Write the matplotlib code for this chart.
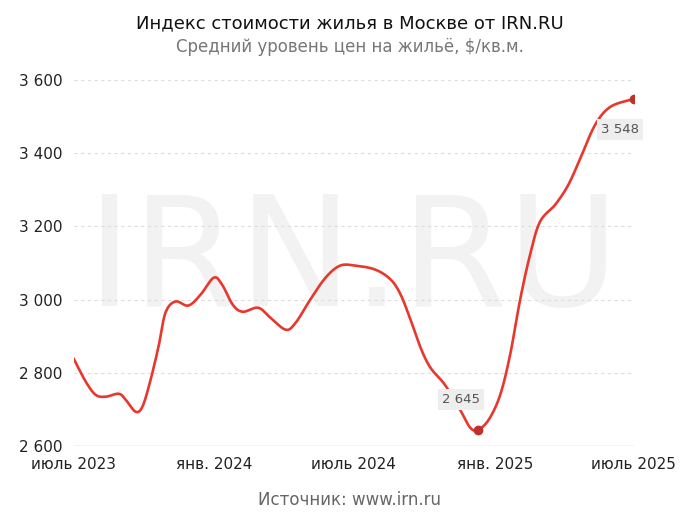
import numpy as np
import matplotlib.pyplot as plt

# days since 2023-07-01 and index values ($/sq.m)
days = [0, 16, 29, 42, 59, 68, 81, 90, 100, 111, 120, 133, 150, 166, 183, 194,
        208, 221, 241, 257, 277, 290, 309, 329, 348, 368, 394, 414, 427, 440,
        453, 466, 485, 505, 518, 528, 542, 557, 570, 583, 596, 609, 629, 646,
        662, 681, 701, 731]
values = [2840, 2776, 2740, 2735, 2743, 2727, 2694, 2708, 2776, 2872, 2964,
          2995, 2984, 3014, 3060, 3041, 2986, 2967, 2978, 2951, 2918, 2937,
          3000, 3060, 3093, 3093, 3082, 3055, 3014, 2945, 2869, 2814, 2767,
          2698, 2650, 2645, 2672, 2740, 2850, 3000, 3123, 3213, 3260, 3314,
          3388, 3478, 3527, 3548]
tick_days = [0, 184, 366, 550, 731]
tick_labels = ["июль 2023", "янв. 2024", "июль 2024", "янв. 2025", "июль 2025"]


def smooth(x, y, n=20):
    # Catmull-Rom drawing of the line through the read points
    x = np.asarray(x, float); y = np.asarray(y, float)
    px = np.r_[x[0], x, x[-1]]; py = np.r_[y[0], y, y[-1]]
    xs, ys = [], []
    t = np.linspace(0, 1, n, endpoint=False)
    for i in range(1, len(px) - 2):
        for p, out in ((px, xs), (py, ys)):
            p0, p1, p2, p3 = p[i - 1], p[i], p[i + 1], p[i + 2]
            out.append(0.5 * (2 * p1 + (-p0 + p2) * t + (2 * p0 - 5 * p1 + 4 * p2 - p3) * t**2
                              + (-p0 + 3 * p1 - 3 * p2 + p3) * t**3))
    return np.r_[np.concatenate(xs), x[-1]], np.r_[np.concatenate(ys), y[-1]]


red = "#e8372c"
fig = plt.figure(figsize=(7, 5.23), dpi=100)
ax = fig.add_axes([0.105, 0.147, 0.8, 0.7])
sx, sy = smooth(days, values)
ax.plot(sx, sy, color=red, lw=1.9, solid_capstyle="round")

imin = int(np.argmin(values))
for i, dx, dy in [(imin, -12, 22), (len(values) - 1, -10, -22)]:
    ax.plot(days[i], values[i], "o", color="#c0302a", ms=6, zorder=5)
    ax.annotate(f"{values[i]:,}".replace(",", " "), (days[i], values[i]),
                xytext=(dx, dy), textcoords="offset points", ha="center", va="center",
                fontsize=9.5, color="#555555",
                bbox=dict(boxstyle="square,pad=0.3", fc="#eeeeee", ec="none"))

ax.text(0.5, 0.5, "IRN.RU", transform=ax.transAxes, ha="center", va="center",
        fontsize=110, color="#f2f2f2", zorder=0)

ax.set_ylim(2600, 3600)
ax.set_yticks(range(2600, 3601, 200))
ax.set_yticklabels([f"{v:,}".replace(",", " ") for v in range(2600, 3601, 200)])
ax.set_xlim(0, 731)
ax.set_xticks(tick_days)
ax.set_xticklabels(tick_labels)
ax.tick_params(labelsize=11, length=0, pad=8, colors="#222222")
ax.grid(True, axis="y", ls=(0, (3, 3)), color="#dddddd", lw=0.8)
for s in ax.spines.values():
    s.set_visible(False)
ax.axhline(2600, color="#cccccc", lw=1)

fig.text(0.5, 0.945, "Индекс стоимости жилья в Москве от IRN.RU", ha="center",
         fontsize=13, color="#111111")
fig.text(0.5, 0.9, "Средний уровень цен на жильё, $/кв.м.", ha="center",
         fontsize=12, color="#777777")
fig.text(0.5, 0.035, "Источник: www.irn.ru", ha="center", fontsize=12, color="#666666")

fig.savefig("out.png", dpi=100)
